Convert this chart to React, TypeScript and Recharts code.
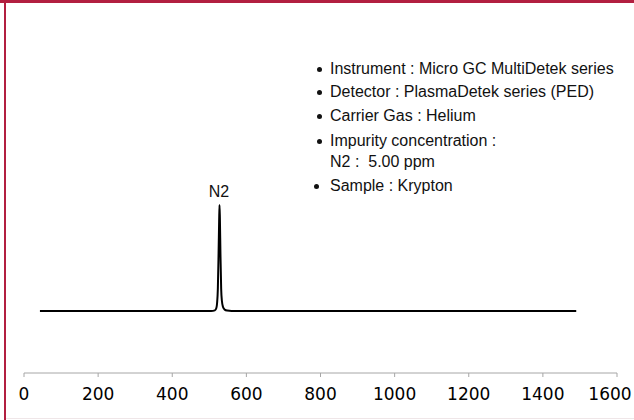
import { Line, LineChart, XAxis, YAxis } from "recharts";

// retention position (x) and detector signal (arbitrary units)
const positions = [
  43, 505, 515, 519, 521, 523, 525, 526.5, 527.5, 528.5, 530, 532, 534, 537,
  541, 548, 560, 1490,
];
const signal = [
  31, 31, 31.3, 32.5, 35, 42, 60, 76, 84, 78, 60, 42, 36, 33, 31.8, 31.2, 31,
  31,
];
const xTicks = [0, 200, 400, 600, 800, 1000, 1200, 1400, 1600];

const peakLabel = "N2";
const notes = [
  "Instrument : Micro GC MultiDetek series",
  "Detector : PlasmaDetek series (PED)",
  "Carrier Gas : Helium",
  "Impurity concentration :",
  "N2 :  5.00 ppm",
  "Sample : Krypton",
];
// which notes carry a bullet
const bulleted = [true, true, true, true, false, true];

const data = positions.map((x, i) => ({ x, y: signal[i] }));

const FONT = '"Liberation Sans", Arial, sans-serif';
const TICK_FONT = '"DejaVu Sans", sans-serif';
const RED = "#B21F40";
const noteTops = [60, 83, 107, 132, 153, 177];

function XTick({ x, y, payload }: any) {
  // keep the last label inside the frame
  const last = payload.value === xTicks[xTicks.length - 1];
  return (
    <text
      x={last ? x - 7 : x}
      y={y + 23}
      textAnchor="middle"
      fill="#000"
      fontSize={17}
      fontFamily={TICK_FONT}
    >
      {payload.value}
    </text>
  );
}

export default function App() {
  return (
    <div
      style={{
        position: "absolute",
        left: 0,
        top: 0,
        width: 634,
        height: 420,
        background: "#fff",
        fontFamily: FONT,
        overflow: "hidden",
      }}
    >
      <div style={{ position: "absolute", left: 0, top: 0, width: 634, height: 3, background: RED }} />
      <div style={{ position: "absolute", left: 4, top: 0, width: 2, height: 420, background: RED }} />
      <div style={{ position: "absolute", left: 6, top: 418, width: 628, height: 1, background: "#efe6e8" }} />

      <LineChart
        width={634}
        height={420}
        data={data}
        margin={{ top: 173, right: 17, bottom: 0, left: 24 }}
        style={{ position: "absolute", left: 0, top: 0 }}
      >
        <XAxis
          dataKey="x"
          type="number"
          domain={[0, 1600]}
          ticks={xTicks}
          height={47}
          stroke="#a6a6a6"
          tickSize={4}
          tickMargin={0}
          tick={<XTick />}
        />
        <YAxis hide domain={[0, 100]} />
        <Line
          dataKey="y"
          type="monotone"
          stroke="#000"
          strokeWidth={2}
          dot={false}
          isAnimationActive={false}
        />
      </LineChart>

      <div
        style={{
          position: "absolute",
          left: 199,
          top: 183,
          width: 40,
          textAlign: "center",
          fontSize: 16,
          lineHeight: "18px",
          color: "#111",
        }}
      >
        {peakLabel}
      </div>

      {notes.map((t, i) => (
        <div
          key={t}
          style={{
            position: "absolute",
            left: 330,
            top: noteTops[i],
            fontSize: 16,
            lineHeight: "18px",
            color: "#111",
            whiteSpace: "pre",
          }}
        >
          {bulleted[i] && (
            <span
              style={{
                position: "absolute",
                left: i === 5 ? -16 : -13,
                top: 7,
                width: 5,
                height: 5,
                borderRadius: 3,
                background: "#111",
              }}
            />
          )}
          {t}
        </div>
      ))}
    </div>
  );
}
